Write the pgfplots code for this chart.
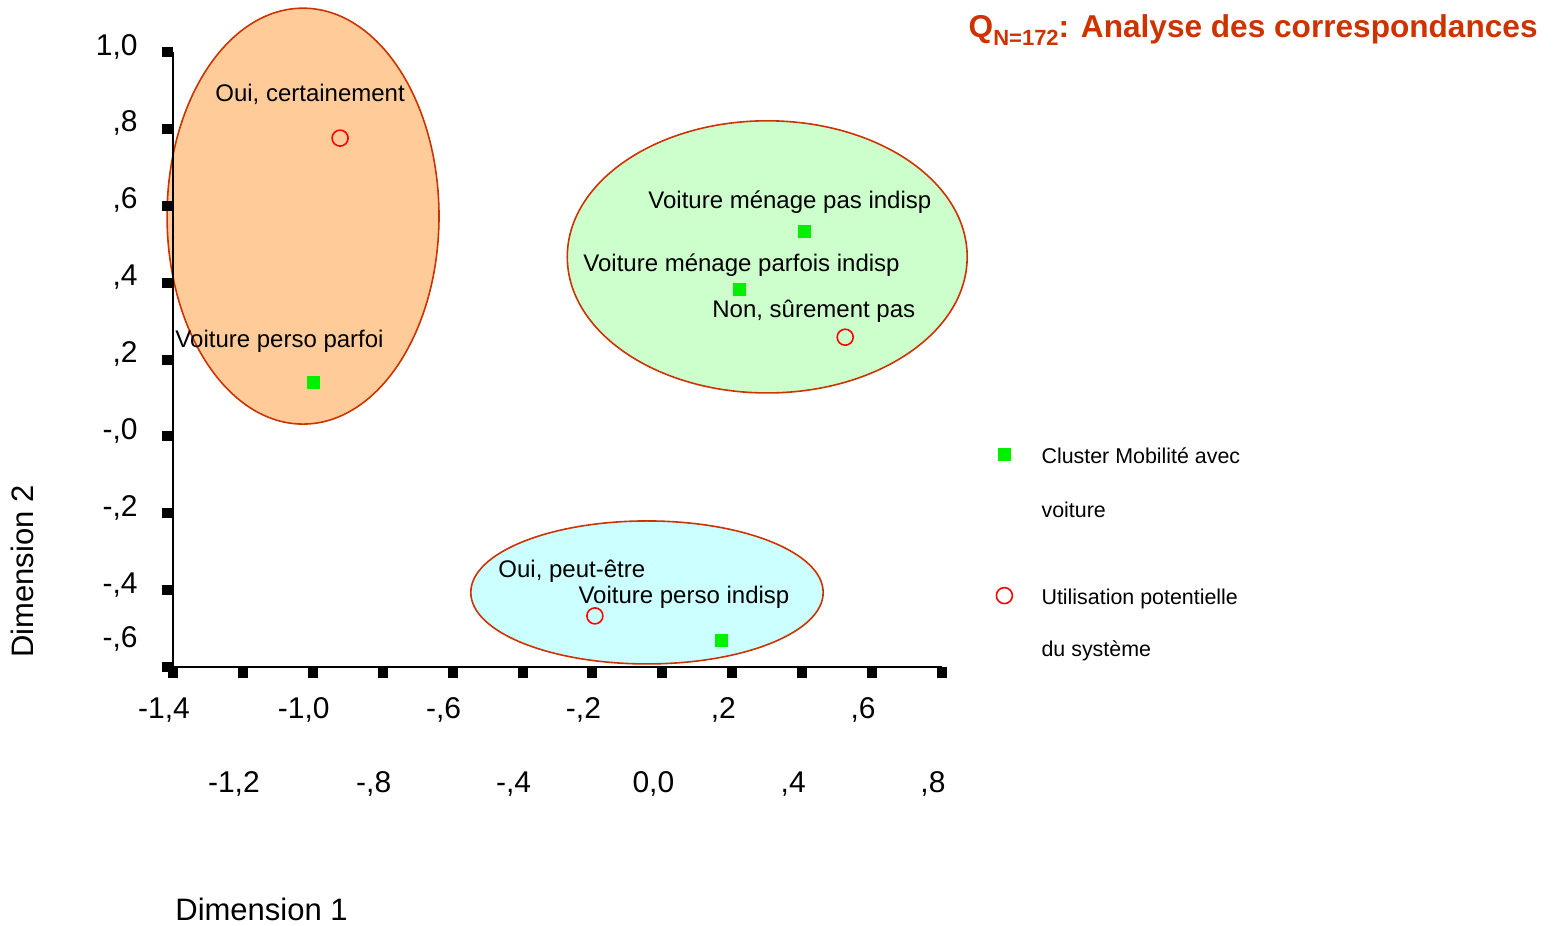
\documentclass[border=0pt]{standalone}
\usepackage{pgfplots}
\pgfplotsset{compat=1.18}
\usepackage{fontspec}
\setmainfont{Liberation Sans}
\definecolor{EdgeRed}{RGB}{204,51,0}
\definecolor{OrangeFill}{RGB}{255,204,153}
\definecolor{GreenFill}{RGB}{204,255,204}
\definecolor{CyanFill}{RGB}{204,255,255}
\definecolor{PtGreen}{RGB}{0,240,0}
\definecolor{PtRed}{RGB}{255,0,0}
% second row of x tick labels, and the odd -,6 label
\newcommand\lowrow[1]{\raisebox{-37pt}[\height][\depth]{#1}}
\newcommand\uprow[1]{\raisebox{11.5pt}[\height][\depth]{#1}}
\tikzset{lbl/.style={anchor=base west, inner sep=0pt, font=\fontsize{12}{14}\selectfont}}

\begin{document}
\begin{tikzpicture}
\useasboundingbox (0,0) rectangle (776.5pt,-463pt);
\begin{axis}[
    at={(86.5pt,-333.5pt)}, anchor=south west,
    scale only axis, width=384.5pt, height=307.5pt,
    xmin=-1.4, xmax=0.8, ymin=-0.6, ymax=1.0,
    axis x line=bottom, axis y line=left,
    axis line style={-, line width=1pt, black},
    clip=false, axis on top,
    tick align=outside, major tick length=5.5pt,
    tick style={line width=5pt, black},
    xtick={-1.4,-1.2,-1.0,-0.8,-0.6,-0.4,-0.2,0,0.2,0.4,0.6,0.8},
    xticklabels={{-1,4},\lowrow{-1,2},{-1,0},\lowrow{-,8},{-,6},\lowrow{-,4},{-,2},\lowrow{0,0},{,2},\lowrow{,4},{,6},\lowrow{,8}},
    ytick={-0.6,-0.4,-0.2,0,0.2,0.4,0.6,0.8,1.0},
    yticklabels={\uprow{-,6},{-,4},{-,2},{-,0},{,2},{,4},{,6},{,8},{1,0}},
    tick label style={font=\fontsize{15}{18}\selectfont, inner sep=0pt},
    xticklabel style={anchor=base, xshift=-4.5pt, yshift=-20pt},
    yticklabel style={anchor=base east, xshift=-12pt, yshift=-1.5pt},
    xlabel={Dimension 1}, ylabel={Dimension 2},
    label style={font=\fontsize{15.5}{18}\selectfont, inner sep=0pt},
    xlabel style={at={(axis description cs:0.0026,-0.4114)}, anchor=base west},
    ylabel style={at={(axis description cs:-0.182,0.0146)}, anchor=base west, rotate=0},
    legend style={at={(axis description cs:1.0702,0.3613)}, anchor=north west,
      draw=none, fill=none, inner sep=0pt, row sep=60pt, column sep=14.6pt,
      font=\fontsize{10.7}{13}\selectfont,
      nodes={inner sep=0pt, anchor=base west}},
    legend image code/.code={\draw[#1] plot coordinates {(0.3cm,4.5pt)};},
]
% groupings
\draw[EdgeRed, line width=0.8pt, fill=OrangeFill] (axis cs:-1.028,0.573) ellipse [x radius=0.389, y radius=0.541];
\draw[EdgeRed, line width=0.8pt, fill=GreenFill] (axis cs:0.300,0.467) ellipse [x radius=0.572, y radius=0.354];
\draw[EdgeRed, line width=0.8pt, fill=CyanFill] (axis cs:-0.044,-0.406) ellipse [x radius=0.504, y radius=0.186];

\addplot[only marks, mark=square*, mark size=3pt, color=PtGreen] coordinates {
  (-0.997,0.141) (0.405,0.532) (0.219,0.383) (0.168,-0.532)};
\addlegendentry{\begin{tabular}[t]{@{}l@{}}Cluster Mobilité avec\\[14pt]voiture\end{tabular}}
\addplot[only marks, mark=o, mark size=4pt, color=PtRed, mark options={line width=0.8pt}] coordinates {
  (-0.922,0.776) (0.523,0.258) (-0.193,-0.467)};
\addlegendentry{\begin{tabular}[t]{@{}l@{}}Utilisation potentielle\\[13pt]du système\end{tabular}}

\node[lbl] at (axis cs:-1.280,0.870) {Oui, certainement};
\node[lbl] at (axis cs:-1.394,0.232) {Voiture perso parfoi};
\node[lbl] at (axis cs:-0.041,0.594) {Voiture ménage pas indisp};
\node[lbl] at (axis cs:-0.227,0.428) {Voiture ménage parfois indisp};
\node[lbl] at (axis cs:0.142,0.308) {Non, sûrement pas};
\node[lbl] at (axis cs:-0.470,-0.368) {Oui, peut-être};
\node[lbl] at (axis cs:-0.241,-0.436) {Voiture perso indisp};
\end{axis}
\node[anchor=base east, inner sep=0pt, text=EdgeRed, font=\bfseries\fontsize{15.8}{19}\selectfont]
  at (769pt,-18.5pt) {Q\raisebox{-4pt}{\fontsize{11}{13}\selectfont N=172}: Analyse des correspondances};
\end{tikzpicture}
\end{document}
